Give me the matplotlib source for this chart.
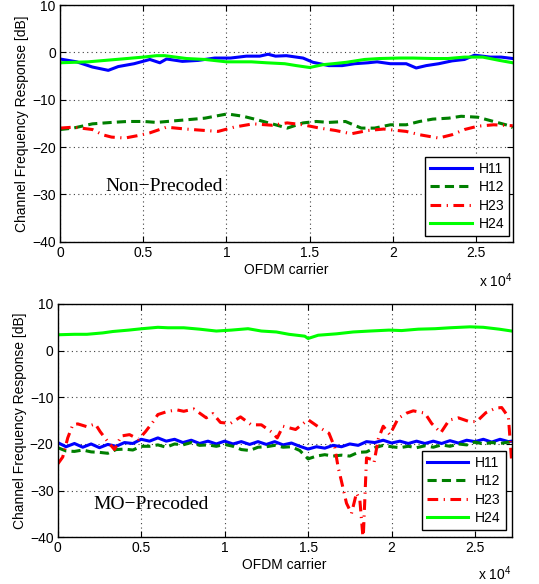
import matplotlib
matplotlib.use("Agg")
import matplotlib.pyplot as plt

# ---------------- data ----------------
labels = ["H11", "H12", "H23", "H24"]
xticks = [0, 5000, 10000, 15000, 20000, 25000]
xticklabels = ["0", "0.5", "1", "1.5", "2", "2.5"]
yticks = [-40, -30, -20, -10, 0, 10]

# Top panel: Non-Precoded
top_h11_x = [0, 1000, 1950, 2900, 3500, 4450, 5400, 6000, 6400, 7350, 8300, 9300, 10250, 11200,
             12000, 12500, 12950, 13600, 14600, 15200, 16150, 16950, 17700, 18500, 19050, 19850,
             20800, 21400, 22000, 22750, 23550, 24300, 24900, 25850, 26500, 27200]
top_h11_y = [-1.4, -2.0, -3.1, -3.8, -3.0, -2.4, -1.5, -2.2, -1.4, -1.9, -1.7, -1.2, -1.2, -0.8,
             -0.8, -0.4, -0.8, -0.7, -1.2, -2.1, -2.8, -2.8, -2.4, -2.2, -2.0, -2.4,
             -2.4, -3.3, -2.8, -2.4, -1.8, -1.5, -0.6, -1.0, -1.0, -1.3]

top_h12_x = [0, 800, 1950, 3100, 4050, 5050, 5800, 6750, 7750, 8700, 10050, 11000, 11800, 12950,
             13650, 14600, 15400, 16150, 17150, 18100, 18900, 19850, 20800, 21600, 22400, 23350,
             24100, 25100, 26050, 27000, 27200]
top_h12_y = [-16.3, -16.0, -15.1, -14.8, -14.6, -14.6, -14.8, -14.5, -14.2, -13.9, -13.0, -13.5,
             -14.2, -15.3, -16.0, -14.9, -14.6, -14.8, -14.6, -16.0, -16.0, -15.3, -15.3, -14.6,
             -14.1, -13.9, -13.5, -13.7, -14.6, -15.5, -15.9]

top_h23_x = [0, 800, 1950, 2550, 3100, 3900, 4650, 5400, 6400, 7550, 8700, 9500, 10450, 11600,
             12750, 13650, 14600, 15600, 16550, 17500, 18500, 19450, 20800, 21600, 22750, 23550,
             24300, 25100, 26050, 27200]
top_h23_y = [-16.0, -15.8, -16.3, -17.4, -17.9, -18.1, -17.6, -17.0, -15.8, -16.2, -16.5, -16.7,
             -15.8, -15.1, -15.4, -14.9, -15.3, -16.0, -16.5, -17.2, -16.5, -16.2, -16.7, -17.4,
             -18.1, -17.4, -16.3, -15.6, -15.3, -15.5]

top_h24_x = [0, 1700, 3700, 5000, 5800, 6300, 7600, 8700, 10000, 11500, 12400, 13500, 14200,
             15000, 15800, 16400, 17200, 18300, 19200, 20400, 21200, 22400, 23300, 24300, 25400,
             26400, 27200]
top_h24_y = [-2.2, -2.0, -1.4, -1.0, -0.7, -0.7, -1.3, -1.5, -2.0, -2.0, -2.2, -2.4, -2.8,
             -3.2, -2.6, -2.4, -2.1, -1.5, -1.3, -1.2, -1.2, -1.3, -1.3, -1.0, -1.0,
             -1.7, -2.2]

# Bottom panel: MO-Precoded
bot_grid_x = [0, 500, 1000, 1500, 2000, 2500, 3000, 3500, 4000, 4500, 5000, 5500, 6000, 6500,
              7000, 7500, 8000, 8500, 9000, 9500, 10000, 10500, 11000, 11500, 12000, 12500,
              13000, 13500, 14000, 14500, 15000, 15500, 16000, 16500, 17000, 17500, 18000,
              18500, 19000, 19500, 20000, 20500, 21000, 21500, 22000, 22500, 23000, 23500,
              24000, 24500, 25000, 25500, 26000, 26500, 27000, 27200]
bot_h11_y = [-19.7, -20.6, -19.9, -20.7, -20.0, -20.8, -20.1, -20.5, -19.7, -19.9, -19.0, -19.4,
             -18.7, -19.4, -19.0, -19.7, -19.2, -19.9, -19.4, -20.0, -19.4, -20.0, -19.5, -20.1,
             -19.5, -20.1, -19.5, -20.2, -19.8, -20.5, -21.1, -20.6, -20.9, -20.3, -20.6, -20.0,
             -20.3, -19.5, -19.7, -19.2, -19.8, -19.4, -19.9, -19.4, -19.9, -19.4, -19.9, -19.3,
             -19.8, -19.2, -19.5, -19.0, -19.6, -19.0, -19.5, -19.4]
bot_h12_y = [-20.8, -21.5, -21.6, -21.3, -21.7, -21.8, -22.0, -21.2, -21.1, -21.3, -20.5, -20.5,
             -20.2, -20.7, -20.0, -20.2, -19.7, -20.3, -20.2, -20.5, -20.1, -20.5, -21.2, -21.4,
             -20.7, -20.6, -20.3, -20.7, -20.6, -21.4, -23.2, -22.6, -22.3, -22.6, -22.4, -22.6,
             -21.8, -21.7, -20.8, -20.3, -20.6, -20.8, -20.5, -20.8, -20.4, -20.7, -20.2, -20.5,
             -20.0, -20.2, -19.6, -20.0, -19.7, -19.9, -19.6, -19.8]

bot_h23_x = [0, 300, 600, 900, 1200, 1750, 2250, 2550, 3000, 3400, 3800, 4300, 4850, 5250, 5700,
             6000, 6600, 7150, 7550, 8150, 8900, 9300, 9750, 10350, 10950, 11600, 12200, 12800,
             13150, 13500, 14250, 15000, 15600, 16250, 16600, 16800, 17000, 17300, 17600, 17900,
             18100, 18300, 18500, 18800, 18950, 19200, 19500, 19900, 20400, 20900, 21300, 22000,
             22400, 22950, 23450, 24000, 24650, 25100, 25650, 26250, 26600, 27000, 27100, 27200]
bot_h23_y = [-24.3, -22.8, -18.7, -15.9, -15.7, -16.3, -15.7, -17.4, -19.5, -21.2, -18.3, -18.0,
             -19.0, -17.4, -15.3, -13.7, -13.0, -12.7, -13.0, -12.5, -14.4, -13.5, -15.4, -15.6,
             -14.2, -15.9, -15.9, -17.4, -18.7, -16.2, -16.9, -14.8, -16.3, -17.7, -20.8, -25.0,
             -28.0, -32.7, -34.9, -30.5, -32.0, -40.5, -23.0, -23.3, -24.0, -19.0, -16.2, -18.0,
             -14.5, -13.4, -12.9, -13.4, -15.6, -17.6, -14.9, -14.4, -15.2, -15.2, -13.3, -12.3,
             -12.2, -14.2, -19.0, -24.0]

bot_h24_x = [0, 1000, 1750, 2700, 3300, 4250, 5050, 6000, 6600, 7550, 8500, 9500, 10400, 11400,
             12200, 13100, 13850, 14800, 15000, 15600, 16700, 17700, 18700, 19850, 20600, 21600,
             22600, 23500, 24700, 25500, 26450, 27200]
bot_h24_y = [3.4, 3.5, 3.5, 3.8, 4.1, 4.4, 4.7, 5.0, 4.9, 4.9, 4.6, 4.2, 4.4, 4.7,
             4.2, 4.0, 3.5, 3.1, 2.6, 3.3, 3.6, 4.0, 4.2, 4.4, 4.3, 4.6,
             4.7, 4.9, 5.1, 5.0, 4.6, 4.2]

# ---------------- style ----------------
plt.rcParams['font.family'] = ['Liberation Sans', 'DejaVu Sans']
plt.rcParams['mathtext.default'] = 'regular'

colors = ['#0000FF', '#007F00', '#FF0000', '#00FF00']
styles = ['-', (0, (3, 1.7)), (0, (3.5, 1.8, 0.4, 1.8)), '-']
LW = 2.2

fig = plt.figure(figsize=(5.39, 5.84), dpi=100)
ax1 = fig.add_axes([0.1113, 0.5861, 0.8400, 0.4053])
ax2 = fig.add_axes([0.1071, 0.0800, 0.8423, 0.3995])


def style_axes(ax, legend_anchor, mult_y):
    ax.set_xlim(0, 27200)
    ax.set_ylim(-40, 10)
    ax.set_xticks(xticks)
    ax.set_xticklabels(xticklabels)
    ax.set_yticks(yticks)
    ax.tick_params(direction='in', length=4, width=0.8, top=True, right=True,
                   labelsize=10, pad=3)
    ax.grid(True, color='0.25', linestyle=(0, (1, 3)), linewidth=0.8)
    for s in ax.spines.values():
        s.set_linewidth(1.0)
    ax.set_xlabel('OFDM carrier', fontsize=10, labelpad=2)
    ax.set_ylabel('Channel Frequency Response [dB]', fontsize=10, labelpad=2)
    ax.text(1.0, mult_y, 'x 10$^{4}$', transform=ax.transAxes, ha='right', va='center',
            fontsize=10)
    leg = ax.legend(loc='lower right', bbox_to_anchor=legend_anchor, borderaxespad=0,
                    fontsize=10, handlelength=3.0, labelspacing=0.32, handletextpad=0.5,
                    borderpad=0.35, fancybox=False, framealpha=1, edgecolor='black')
    leg.get_frame().set_linewidth(1.0)


top_series = [(top_h11_x, top_h11_y), (top_h12_x, top_h12_y), (top_h23_x, top_h23_y),
              (top_h24_x, top_h24_y)]
bot_series = [(bot_grid_x, bot_h11_y), (bot_grid_x, bot_h12_y), (bot_h23_x, bot_h23_y),
              (bot_h24_x, bot_h24_y)]

for (xs, ys), c, ls, lab in zip(top_series, colors, styles, labels):
    ax1.plot(xs, ys, color=c, linestyle=ls, linewidth=LW, label=lab)
for (xs, ys), c, ls, lab in zip(bot_series, colors, styles, labels):
    ax2.plot(xs, ys, color=c, linestyle=ls, linewidth=LW, label=lab)

style_axes(ax1, (0.992, 0.024), -0.165)
style_axes(ax2, (0.987, 0.031), -0.158)

ax1.text(2700, -28.3, 'Non\u2212Precoded', family=['Liberation Serif', 'DejaVu Serif'],
         fontsize=14, va='center', ha='left')
ax2.text(2150, -32.9, 'MO\u2212Precoded', family=['Liberation Serif', 'DejaVu Serif'],
         fontsize=14, va='center', ha='left')

fig.savefig('out.png', dpi=100)
